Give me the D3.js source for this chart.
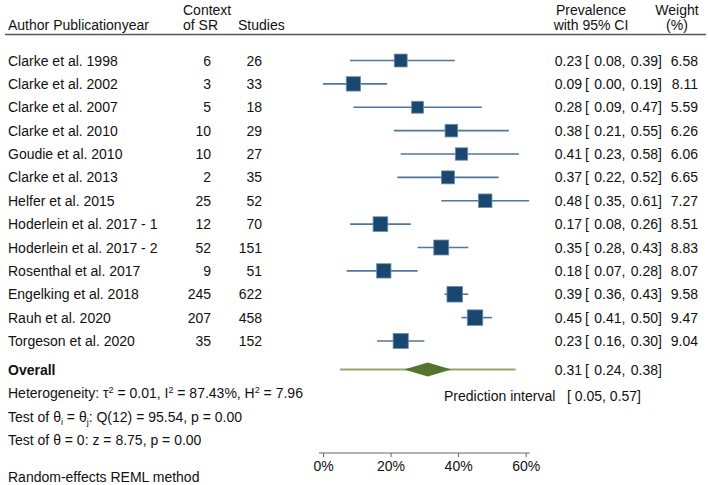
<!DOCTYPE html>
<html><head><meta charset="utf-8">
<script src="https://cdn.jsdelivr.net/npm/d3@7"></script>
<style>
html,body{margin:0;padding:0;background:#fff;}
svg{display:block;font-family:"Liberation Sans",Arial,sans-serif;}
text{white-space:pre;fill:#111;}
</style></head><body>
<script>
const authors = ["Clarke et al. 1998","Clarke et al. 2002","Clarke et al. 2007","Clarke et al. 2010","Goudie et al. 2010","Clarke et al. 2013","Helfer et al. 2015","Hoderlein et al. 2017 - 1","Hoderlein et al. 2017 - 2","Rosenthal et al. 2017","Engelking et al. 2018","Rauh et al. 2020","Torgeson et al. 2020"];
const contextSR = [6,3,5,10,10,2,25,12,52,9,245,207,35];
const studies = [26,33,18,29,27,35,52,70,151,51,622,458,152];
const est = [0.23,0.09,0.28,0.38,0.41,0.37,0.48,0.17,0.35,0.18,0.39,0.45,0.23];
const lo  = [0.08,0.00,0.09,0.21,0.23,0.22,0.35,0.08,0.28,0.07,0.36,0.41,0.16];
const hi  = [0.39,0.19,0.47,0.55,0.58,0.52,0.61,0.26,0.43,0.28,0.43,0.50,0.30];
const weights = [6.58,8.11,5.59,6.26,6.06,6.65,7.27,8.51,8.83,8.07,9.58,9.47,9.04];
const overall = [0.31,0.24,0.38];
const predInt = [0.05,0.57];
const ticks = [0,0.2,0.4,0.6];

const W=708,H=485;
const svg=d3.select("body").append("svg").attr("width",W).attr("height",H);
const x=d3.scaleLinear().domain([0,0.6]).range([323,525.7]);
const y=d3.scalePoint().domain(d3.range(authors.length)).range([60.5,341]);
const side=d3.scaleSqrt().domain([0,9.58]).range([0,15.6]);
const f2=d3.format(".2f");
const fs=14;
const T=(xx,yy,s,anchor)=>svg.append("text").attr("x",xx).attr("y",yy+5).attr("font-size",fs).attr("text-anchor",anchor||"start").text(s);

// header
T(183,10,"Context");T(183,25,"of SR");
T(8,25,"Author Publicationyear");
T(238,25,"Studies");
T(591,10,"Prevalence","middle");T(591,25,"with 95% CI","middle");
T(677,10,"Weight","middle");T(677,25,"(%)","middle");
svg.append("line").attr("x1",5).attr("x2",706).attr("y1",34.5).attr("y2",34.5).attr("stroke","#555").attr("stroke-width",1.4);

// CI text parts
const ciText=(yy,e,l,h)=>{
  T(582,yy,f2(e),"end");
  T(585,yy,"[");
  T(621.5,yy,f2(l),"end");
  T(621.5,yy,",");
  T(658,yy,f2(h),"end");
  T(658,yy,"]");
};

// rows
const g=svg.append("g");
authors.forEach((a,i)=>{
  const yy=y(i);
  T(8,yy,a);
  T(211,yy,String(contextSR[i]),"end");
  T(262,yy,String(studies[i]),"end");
  ciText(yy,est[i],lo[i],hi[i]);
  T(698,yy,f2(weights[i]),"end");
  g.append("line").attr("x1",x(lo[i])).attr("x2",x(hi[i])).attr("y1",yy).attr("y2",yy)
   .attr("stroke","#2f5f8f").attr("stroke-width",1.6).attr("stroke-opacity",0.85);
  const s=side(weights[i]);
  g.append("rect").attr("x",x(est[i])-s/2).attr("y",yy-s/2).attr("width",s).attr("height",s)
   .attr("fill","#1a476f").attr("stroke","#7090b0").attr("stroke-width",0.8);
});

// overall
const yo=369.5;
T(8,yo,"Overall").attr("font-weight","bold");
svg.append("line").attr("x1",x(predInt[0])).attr("x2",x(predInt[1])).attr("y1",yo).attr("y2",yo)
  .attr("stroke","#8fab6c").attr("stroke-width",1.8);
const dpts=[[x(overall[1]),yo],[x(overall[0]),yo-7],[x(overall[2]),yo],[x(overall[0]),yo+7]];
svg.append("path").attr("d",d3.line()(dpts)+"Z").attr("fill","#55752f");
ciText(yo,overall[0],overall[1],overall[2]);
T(444,396,"Prediction interval");
T(641,396,"[ "+f2(predInt[0])+", "+f2(predInt[1])+"]","end");

// heterogeneity
const sup=(t,s)=>{t.append("tspan").attr("font-size",9).attr("dy",-5).text(s);};
const h1=T(8,393,"");
h1.append("tspan").text("Heterogeneity: \u03c4");
sup(h1,"2");
h1.append("tspan").attr("dy",5).text(" = 0.01, I");
sup(h1,"2");
h1.append("tspan").attr("dy",5).text(" = 87.43%, H");
sup(h1,"2");
h1.append("tspan").attr("dy",5).text(" = 7.96");
const h2=T(8,416.5,"");
h2.append("tspan").text("Test of \u03b8");
h2.append("tspan").attr("font-size",9).attr("dy",3).text("i");
h2.append("tspan").attr("dy",-3).text(" = \u03b8");
h2.append("tspan").attr("font-size",9).attr("dy",3).text("j");
h2.append("tspan").attr("dy",-3).text(": Q(12) = 95.54, p = 0.00");
T(8,440,"Test of \u03b8 = 0: z = 8.75, p = 0.00");
T(8,477,"Random-effects REML method");

// axis
const ya=453;
const ax=svg.append("g").attr("transform",`translate(0,${ya})`)
  .call(d3.axisBottom(x).tickValues(ticks).tickFormat(d3.format(".0%")).tickSize(4).tickSizeOuter(0));
ax.select(".domain").remove();
ax.append("line").attr("x1",x(-0.012)).attr("x2",x(0.612)).attr("stroke","#666").attr("stroke-width",1.2);
ax.selectAll(".tick line").attr("stroke","#666");
ax.selectAll(".tick text").attr("font-size",fs).attr("fill","#111").attr("font-family","\"Liberation Sans\",Arial,sans-serif").attr("y",8);
</script></body></html>
